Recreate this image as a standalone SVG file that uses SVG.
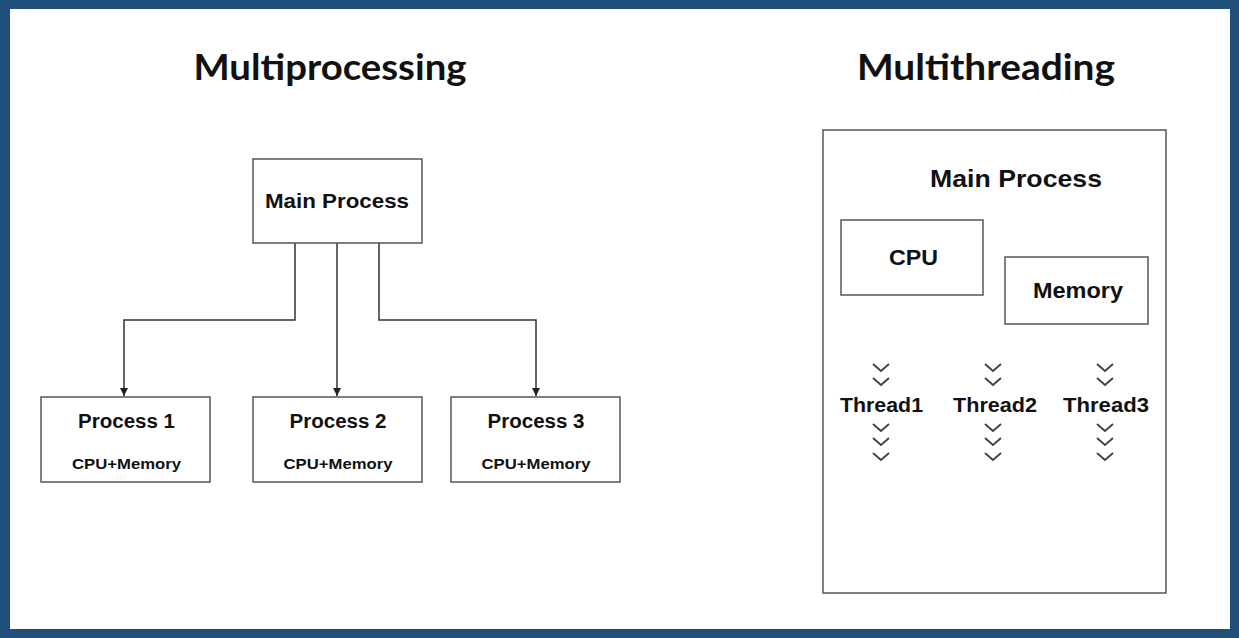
<svg xmlns="http://www.w3.org/2000/svg" width="1239" height="638" viewBox="0 0 1239 638">
<defs>
<style>
.box{fill:#fff;stroke:#555;stroke-width:1.5}
.t{font-family:"Liberation Sans",Arial,sans-serif;font-weight:bold;fill:#111;text-anchor:middle}
.title{font-family:Lato,"Open Sans",sans-serif;font-weight:bold;fill:#111;text-anchor:middle;font-size:36px}
.c{fill:none;stroke:#333;stroke-width:1.5}
.chev{fill:none;stroke:#444;stroke-width:2}
</style>
<marker id="arr" viewBox="0 0 10 10" refX="10" refY="5" markerWidth="8" markerHeight="8" markerUnits="userSpaceOnUse" orient="auto">
<path d="M0,0 L10,5 L0,10 z" fill="#222"/>
</marker>
<path id="ch" d="M-8,0 L0,7 L8,0" class="chev"/>
</defs>
<rect x="0" y="0" width="1239" height="638" fill="#1f4e79"/>
<rect x="10" y="9" width="1220" height="620" fill="#fff"/>
<text class="title" x="330" y="80" textLength="273" lengthAdjust="spacingAndGlyphs">Multiprocessing</text>
<text class="title" x="986" y="80" textLength="258" lengthAdjust="spacingAndGlyphs">Multithreading</text>

<g id="connectors">
<path class="c" d="M295,243 V320 H124 V396" marker-end="url(#arr)"/>
<path class="c" d="M337,243 V396" marker-end="url(#arr)"/>
<path class="c" d="M379,243 V320 H536 V396" marker-end="url(#arr)"/>
</g>

<g id="main-process">
<rect class="box" x="253" y="159" width="169" height="84"/>
<text class="t" x="337" y="208" font-size="21" textLength="144" lengthAdjust="spacingAndGlyphs">Main Process</text>
</g>
<g id="process1">
<rect class="box" x="41" y="397" width="169" height="85"/>
<text class="t" x="126.5" y="428" font-size="20" textLength="97" lengthAdjust="spacingAndGlyphs">Process 1</text>
<text class="t" x="126.5" y="469" font-size="15" textLength="109" lengthAdjust="spacingAndGlyphs">CPU+Memory</text>
</g>
<g id="process2">
<rect class="box" x="253" y="397" width="169" height="85"/>
<text class="t" x="338" y="428" font-size="20" textLength="97" lengthAdjust="spacingAndGlyphs">Process 2</text>
<text class="t" x="338" y="469" font-size="15" textLength="109" lengthAdjust="spacingAndGlyphs">CPU+Memory</text>
</g>
<g id="process3">
<rect class="box" x="451" y="397" width="169" height="85"/>
<text class="t" x="536" y="428" font-size="20" textLength="97" lengthAdjust="spacingAndGlyphs">Process 3</text>
<text class="t" x="536" y="469" font-size="15" textLength="109" lengthAdjust="spacingAndGlyphs">CPU+Memory</text>
</g>

<g id="mt-main-process">
<rect class="box" x="823" y="130" width="343" height="463"/>
<text class="t" x="1016" y="187" font-size="24" textLength="172" lengthAdjust="spacingAndGlyphs">Main Process</text>
</g>
<g id="cpu">
<rect class="box" x="841" y="220" width="142" height="75"/>
<text class="t" x="913.5" y="265" font-size="22" textLength="49" lengthAdjust="spacingAndGlyphs">CPU</text>
</g>
<g id="memory">
<rect class="box" x="1005" y="257" width="143" height="67"/>
<text class="t" x="1078" y="298" font-size="22" textLength="90" lengthAdjust="spacingAndGlyphs">Memory</text>
</g>

<g id="thread1">
<use href="#ch" x="881" y="364"/>
<use href="#ch" x="881" y="378"/>
<text class="t" x="881.5" y="412" font-size="21" textLength="83" lengthAdjust="spacingAndGlyphs">Thread1</text>
<use href="#ch" x="881" y="424"/>
<use href="#ch" x="881" y="438"/>
<use href="#ch" x="881" y="453"/>
</g>
<g id="thread2">
<use href="#ch" x="993" y="364"/>
<use href="#ch" x="993" y="378"/>
<text class="t" x="995" y="412" font-size="21" textLength="84" lengthAdjust="spacingAndGlyphs">Thread2</text>
<use href="#ch" x="993" y="424"/>
<use href="#ch" x="993" y="438"/>
<use href="#ch" x="993" y="453"/>
</g>
<g id="thread3">
<use href="#ch" x="1105" y="364"/>
<use href="#ch" x="1105" y="378"/>
<text class="t" x="1106" y="412" font-size="21" textLength="86" lengthAdjust="spacingAndGlyphs">Thread3</text>
<use href="#ch" x="1105" y="424"/>
<use href="#ch" x="1105" y="438"/>
<use href="#ch" x="1105" y="453"/>
</g>
</svg>
